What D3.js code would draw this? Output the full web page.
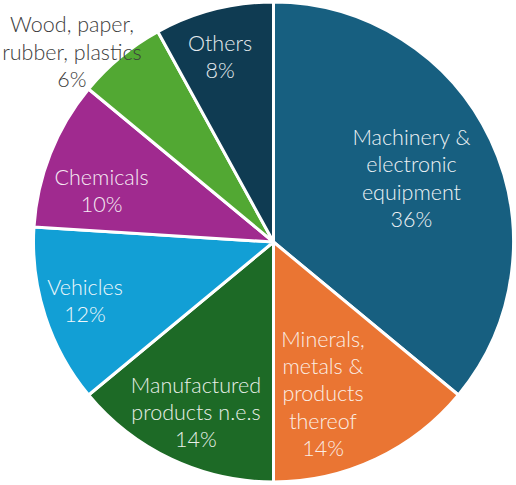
<!DOCTYPE html>
<html>
<head>
<meta charset="utf-8">
<script src="https://cdn.jsdelivr.net/npm/d3@7"></script>
<style>
  html, body { margin: 0; padding: 0; background: #ffffff; }
  svg { display: block; }
  text { font-family: Lato, "Open Sans", sans-serif; font-weight: 300; }
</style>
</head>
<body>
<div id="chart"></div>
<script>
// ---- data ----
const categories = [
  "Machinery & electronic equipment",
  "Minerals, metals & products thereof",
  "Manufactured products n.e.s",
  "Vehicles",
  "Chemicals",
  "Wood, paper, rubber, plastics",
  "Others"
];
const shares = [36, 14, 14, 12, 10, 6, 8];
const labelLines = [
  ["Machinery &", "electronic", "equipment"],
  ["Minerals,", "metals &", "products", "thereof"],
  ["Manufactured", "products n.e.s"],
  ["Vehicles"],
  ["Chemicals"],
  ["Wood, paper,", "rubber, plastics"],
  ["Others"]
];
const colors = ["#175f80", "#ea7533", "#1d6a26", "#129fd5", "#a02a8f", "#52a833", "#0f3b52"];

// ---- layout (styling / placement, not data) ----
const W = 516, H = 485;
const cx = 273.5, cy = 242, R = 240;
const labelR = 153;
const lineH = 27.3;
const labelOffsets = [[-0.5, 9], [-15.6, 21], [-12.4, 39.6], [-43, 19.2], [-29.7, 12.8], [-104, -64.5], [-15.4, -29.3]];
const labelColors = ["#eef2f5", "#fbeee5", "#e9f0e9", "#eef7fb", "#f6eaf4", "#3c3c3c", "#e6ecef"];

const data = categories.map((c, i) => ({ name: c, value: shares[i], lines: labelLines[i], i }));

const svg = d3.select("#chart").append("svg")
  .attr("width", W).attr("height", H);

const g = svg.append("g").attr("transform", `translate(${cx},${cy})`);

const pie = d3.pie().value(d => d.value).sort(null);
const arc = d3.arc().innerRadius(0).outerRadius(R);
const labelArc = d3.arc().innerRadius(labelR).outerRadius(labelR);

const arcs = pie(data);

g.selectAll("path.slice")
  .data(arcs)
  .join("path")
  .attr("class", "slice")
  .attr("d", arc)
  .attr("fill", d => colors[d.data.i])
  .attr("stroke", "#ffffff")
  .attr("stroke-width", 3)
  .attr("stroke-linejoin", "round");

const labels = g.selectAll("text.label")
  .data(arcs)
  .join("text")
  .attr("class", "label")
  .attr("text-anchor", "middle")
  .attr("font-size", 21.5)
  .attr("fill", d => labelColors[d.data.i])
  .attr("transform", d => {
    const [x, y] = labelArc.centroid(d);
    const [ox, oy] = labelOffsets[d.data.i];
    return `translate(${x + ox},${y + oy})`;
  });

labels.each(function (d) {
  const lines = d.data.lines.concat([d3.format("d")(d.data.value) + "%"]);
  const n = lines.length;
  const t = d3.select(this);
  lines.forEach((ln, k) => {
    t.append("tspan")
      .attr("x", 0)
      .attr("y", (k - (n - 1) / 2) * lineH)
      .text(ln);
  });
});
</script>
</body>
</html>
